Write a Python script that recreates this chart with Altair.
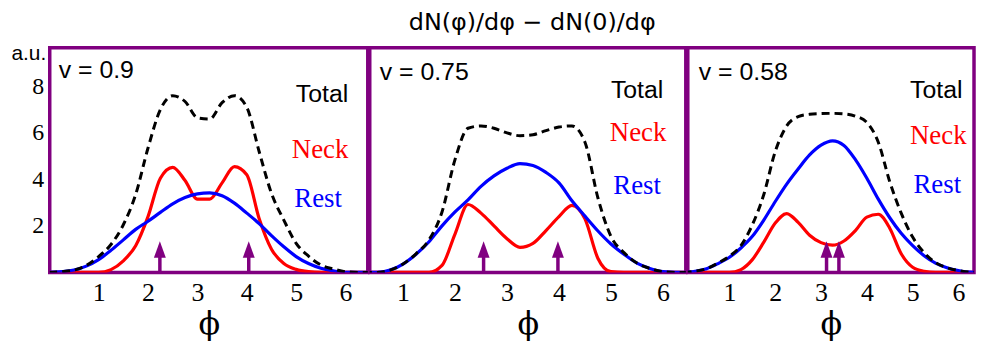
import altair as alt
import pandas as pd

# ---------------- data ----------------
phi = [0.0, 0.25, 0.5, 0.75, 1.0, 1.25, 1.5, 1.75, 2.0, 2.25, 2.5, 2.75, 3.0, 3.25,
       3.5, 3.75, 4.0, 4.25, 4.5, 4.75, 5.0, 5.25, 5.5, 5.75, 6.0, 6.25, 6.5]

# v = 0.9
total_09 = [0, 0.03, 0.1, 0.3, 0.68, 1.2, 2.05, 3.35, 5.35, 7.0, 7.6, 7.35, 6.65, 6.6,
            7.3, 7.6, 7.1, 5.2, 3.4, 2.25, 1.25, 0.7, 0.32, 0.15, 0.03, 0, 0]
neck_09 = [0, 0, 0, 0, 0.0, 0.12, 0.5, 1.15, 2.4, 4.05, 4.52, 3.95, 3.15, 3.15,
           3.85, 4.55, 4.2, 2.32, 1.0, 0.38, 0.13, 0.03, 0, 0, 0, 0, 0]
rest_09 = [0.0, 0.03, 0.1, 0.27, 0.55, 0.95, 1.4, 1.85, 2.2, 2.58, 2.95, 3.22, 3.38, 3.42,
           3.3, 2.98, 2.55, 2.1, 1.58, 1.1, 0.68, 0.38, 0.18, 0.07, 0.0, 0.0, 0.0]

# v = 0.75
total_075 = [0, 0, 0, 0.1, 0.36, 0.8, 1.4, 2.6, 4.85, 6.2, 6.3, 6.2, 6.0, 5.88,
             5.92, 6.1, 6.25, 6.3, 5.6, 3.2, 1.55, 0.85, 0.4, 0.17, 0.03, 0, 0]
neck_075 = [0, 0, 0, 0, 0, 0, 0.0, 0.3, 1.65, 2.92, 2.55, 2.0, 1.45, 1.08,
            1.25, 1.8, 2.4, 2.88, 2.3, 0.6, 0.03, 0, 0, 0, 0, 0, 0]
rest_075 = [0, 0, 0.0, 0.1, 0.36, 0.78, 1.32, 2.0, 2.6, 3.12, 3.7, 4.15, 4.48, 4.68,
            4.6, 4.3, 3.85, 3.08, 2.42, 1.78, 1.22, 0.78, 0.4, 0.17, 0.03, 0, 0]

# v = 0.58
total_058 = [0, 0.05, 0.16, 0.4, 0.7, 1.15, 2.05, 3.35, 5.2, 6.3, 6.7, 6.8, 6.83, 6.84,
             6.82, 6.72, 6.45, 5.6, 3.9, 2.55, 1.52, 0.85, 0.42, 0.2, 0.08, 0.01, 0]
neck_058 = [0, 0, 0, 0, 0.0, 0.12, 0.55, 1.3, 2.12, 2.53, 2.15, 1.6, 1.28, 1.17,
            1.35, 1.8, 2.38, 2.5, 1.9, 0.8, 0.22, 0.05, 0, 0, 0, 0, 0]
rest_058 = [0, 0.05, 0.16, 0.38, 0.65, 1.05, 1.55, 2.25, 3.05, 3.8, 4.45, 5.05, 5.47, 5.66,
            5.46, 4.85, 4.05, 3.15, 2.35, 1.68, 1.15, 0.72, 0.4, 0.2, 0.08, 0.01, 0]

panel_names = ["v = 0.9", "v = 0.75", "v = 0.58"]
series_names = ["Total", "Neck", "Rest"]
arrow_phi = [[2.24, 4.04], [2.55, 3.98], [3.12, 3.39]]
x_tick_values = [1, 2, 3, 4, 5, 6]
y_tick_values = [2, 4, 6, 8]

totals = [total_09, total_075, total_058]
necks = [neck_09, neck_075, neck_058]
rests = [rest_09, rest_075, rest_058]

# ---------------- layout / style ----------------
PURPLE = "#800080"
H = 226
widths = [320, 318, 288]
x_domains = [[0.01, 6.45], [0.36, 6.44], [0.09, 6.34]]
Y_DOMAIN = [0, 9.66]
label_pos = [
    [(274, 47), (272, 103), (270, 152)],
    [(269, 43), (270, 86), (269, 139)],
    [(250, 43), (252, 89), (251, 138)],
]
name_pos = [(9, 22), (10, 24), (11, 24)]
series_style = {
    "Total": dict(color="black", font="Liberation Sans"),
    "Neck": dict(color="#ff0000", font="Liberation Serif"),
    "Rest": dict(color="#0000ff", font="Liberation Serif"),
}


def make_panel(i):
    df = pd.DataFrame({
        "phi": phi * 3,
        "value": totals[i] + necks[i] + rests[i],
        "series": ["Total"] * len(phi) + ["Neck"] * len(phi) + ["Rest"] * len(phi),
    })
    x_axis = alt.Axis(
        values=x_tick_values, title="ϕ", grid=False, ticks=False, domain=False,
        labelFont="Liberation Serif", labelFontSize=26, labelColor="black",
        labelPadding=7, titleFont="DejaVu Serif", titleFontSize=32,
        titleFontWeight="normal", titleColor="black", titleY=51,
        titleBaseline="middle",
    )
    if i == 0:
        y_axis = alt.Axis(
            values=y_tick_values, title="a.u.", grid=False, ticks=False, domain=False,
            labelFont="Liberation Serif", labelFontSize=24, labelColor="black",
            labelPadding=6, titleAngle=0, titleFont="Liberation Sans",
            titleFontSize=21, titleFontWeight="normal", titleColor="black",
            titleAlign="right", titleBaseline="middle", titleX=-4, titleY=6,
        )
    else:
        y_axis = None
    xs = alt.X("phi:Q", scale=alt.Scale(domain=x_domains[i], nice=False, zero=False), axis=x_axis)
    ys = alt.Y("value:Q", scale=alt.Scale(domain=Y_DOMAIN, nice=False), axis=y_axis)

    base = alt.Chart(df)
    neck = base.transform_filter(alt.datum.series == "Neck").mark_line(
        color="#ff0000", strokeWidth=3.2, interpolate="monotone", clip=True
    ).encode(x=xs, y=ys)
    rest = base.transform_filter(alt.datum.series == "Rest").mark_line(
        color="#0000ff", strokeWidth=3.2, interpolate="monotone", clip=True
    ).encode(x=xs, y=ys)
    total = base.transform_filter(alt.datum.series == "Total").mark_line(
        color="black", strokeWidth=3, strokeDash=[8, 5], interpolate="monotone", clip=True
    ).encode(x=xs, y=ys)

    arr_df = pd.DataFrame({"phi": arrow_phi[i]})
    stem = alt.Chart(arr_df).mark_rule(color=PURPLE, strokeWidth=3.5).encode(
        x=alt.X("phi:Q"), y=alt.value(208), y2=alt.value(H)
    )
    head = alt.Chart(arr_df).mark_point(
        shape="M0,-1L0.72,1L-0.72,1Z", size=279, filled=True, color=PURPLE, opacity=1
    ).encode(x=alt.X("phi:Q"), y=alt.value(203))

    name = alt.Chart(pd.DataFrame({"t": [panel_names[i]]})).mark_text(
        align="left", baseline="middle", font="Liberation Sans", fontSize=25, color="black"
    ).encode(text="t:N", x=alt.value(name_pos[i][0]), y=alt.value(name_pos[i][1]))

    labels = []
    for j, s in enumerate(series_names):
        st = series_style[s]
        labels.append(
            alt.Chart(pd.DataFrame({"t": [s]})).mark_text(
                align="center", baseline="middle", font=st["font"],
                fontSize=25 if s == "Total" else 27, color=st["color"]
            ).encode(text="t:N", x=alt.value(label_pos[i][j][0]), y=alt.value(label_pos[i][j][1]))
        )

    return alt.layer(neck, rest, total, stem, head, name, *labels).properties(
        width=widths[i], height=H
    )


panels = [make_panel(i) for i in range(3)]

chart = alt.hconcat(*panels, spacing=-3.5).properties(
    title=alt.TitleParams(
        "dN(φ)/dφ − dN(0)/dφ", font="DejaVu Sans", fontSize=24, fontWeight="normal",
        color="black", anchor="middle", dx=40, offset=6,
    ),
    padding={"left": 1, "top": 2, "right": 0, "bottom": 0},
).configure_view(stroke=PURPLE, strokeWidth=3.5)

chart.save("out.html", embed_options={"renderer": "svg", "actions": False})
